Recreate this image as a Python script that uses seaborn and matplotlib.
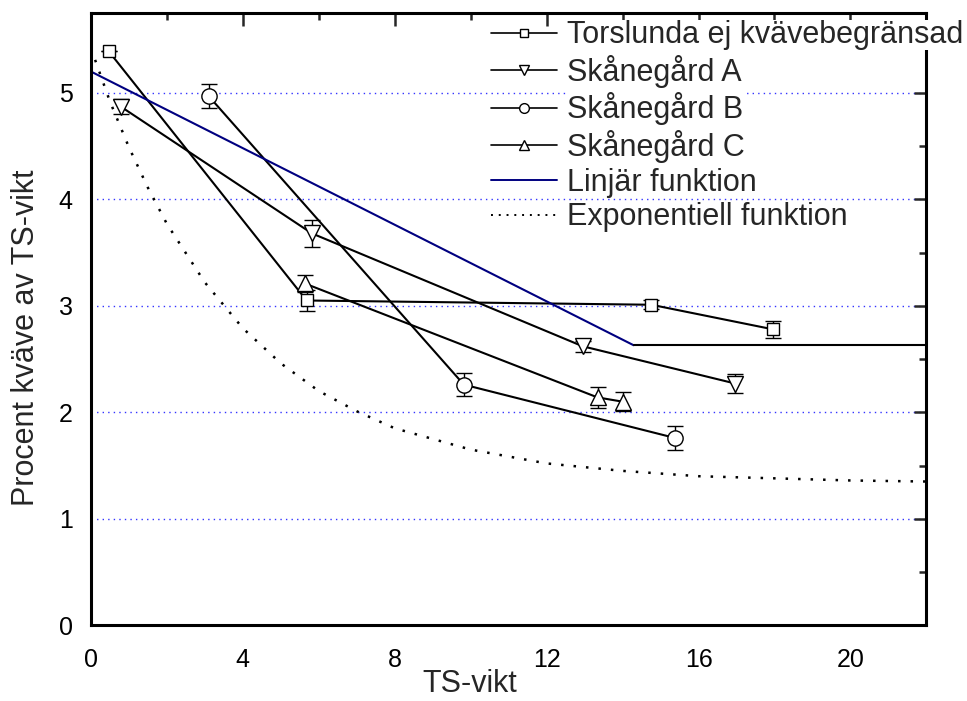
import numpy as np
import pandas as pd
import matplotlib
matplotlib.use("Agg")
import matplotlib.pyplot as plt
from matplotlib.lines import Line2D
from matplotlib.ticker import MultipleLocator
import seaborn as sns

# values
tors_x = [0.47, 5.68, 14.76, 17.95]
tors_y = [5.39, 3.05, 3.01, 2.78]
tors_err = [0.0, 0.10, 0.04, 0.08]

a_x = [0.79, 5.82, 12.95, 16.97]
a_y = [4.87, 3.68, 2.62, 2.27]
a_err = [0.07, 0.13, 0.05, 0.09]

b_x = [3.10, 9.82, 15.37]
b_y = [4.97, 2.26, 1.76]
b_err = [0.11, 0.11, 0.11]

c_x = [5.63, 13.34, 14.00]
c_y = [3.21, 2.14, 2.10]
c_err = [0.08, 0.10, 0.09]

lin_x = [0.0, 14.29]
lin_y = [5.20, 2.63]
flat_x = [14.29, 22.0]
flat_y = [2.63, 2.63]

exp_x = [0, 0.5, 1, 1.5, 2, 3, 4, 5, 6, 7, 8, 10, 12, 14, 16, 18, 20, 22]
exp_y = [5.42, 4.92, 4.49, 4.11, 3.77, 3.22, 2.79, 2.46, 2.20, 2.01, 1.85,
         1.65, 1.52, 1.45, 1.40, 1.38, 1.36, 1.35]

labels = ["Torslunda ej kvävebegränsad", "Skånegård A", "Skånegård B",
          "Skånegård C", "Linjär funktion", "Exponentiell funktion"]

sns.set_style("white")
plt.rcParams['font.family'] = ['Liberation Sans', 'DejaVu Sans']

fig = plt.figure(figsize=(9.67, 7.01), dpi=100)
ax = fig.add_axes([0.094, 0.108, 0.864, 0.8735])

for y in [1, 2, 3, 4, 5]:
    ax.axhline(y, color='#3333ff', linestyle=(0, (1, 3)), linewidth=1, zorder=0)

series = [(tors_x, tors_y, tors_err, 's', 9),
          (a_x, a_y, a_err, 'v', 12),
          (b_x, b_y, b_err, 'o', 11),
          (c_x, c_y, c_err, '^', 12)]
for xs, ys, es, m, ms in series:
    df = pd.DataFrame({'x': xs, 'y': ys})
    sns.lineplot(data=df, x='x', y='y', sort=False, color='black', linewidth=1.5,
                 ax=ax, zorder=2)
    ax.errorbar(xs, ys, yerr=es, fmt='none', ecolor='black', elinewidth=1,
                capsize=6, capthick=1, zorder=3)
    ax.plot(xs, ys, linestyle='none', marker=m, markersize=ms,
            markerfacecolor='white', markeredgecolor='black',
            markeredgewidth=1, zorder=4)

sns.lineplot(x=lin_x, y=lin_y, color='#000080', linewidth=1.5, ax=ax, zorder=2)
sns.lineplot(x=flat_x, y=flat_y, color='black', linewidth=1.5, ax=ax, zorder=2)
sns.lineplot(x=exp_x, y=exp_y, color='black', linewidth=1.8,
             linestyle=(0, (1, 4)), ax=ax, zorder=2)

ax.set_xlim(0, 22)
ax.set_ylim(0, 5.75)
ax.xaxis.set_major_locator(MultipleLocator(4))
ax.xaxis.set_minor_locator(MultipleLocator(2))
ax.yaxis.set_major_locator(MultipleLocator(1))
ax.yaxis.set_minor_locator(MultipleLocator(0.5))
ax.tick_params(which='major', direction='out', length=9, width=1.8,
               labelsize=18, colors='black')
ax.tick_params(axis='x', which='major', pad=7)
ax.tick_params(axis='y', which='major', pad=4)
ax.tick_params(which='minor', direction='out', length=5, width=1.8)

sec_x = ax.secondary_xaxis('top')
sec_x.xaxis.set_major_locator(MultipleLocator(4))
sec_x.xaxis.set_minor_locator(MultipleLocator(2))
sec_x.tick_params(which='major', direction='in', length=9, width=1.8, labeltop=False)
sec_x.tick_params(which='minor', direction='in', length=5, width=1.8)
sec_y = ax.secondary_yaxis('right')
sec_y.yaxis.set_major_locator(MultipleLocator(1))
sec_y.yaxis.set_minor_locator(MultipleLocator(0.5))
sec_y.tick_params(which='major', direction='in', length=9, width=1.8, labelright=False)
sec_y.tick_params(which='minor', direction='in', length=5, width=1.8)
for s in list(sec_x.spines.values()) + list(sec_y.spines.values()):
    s.set_visible(False)

for s in ax.spines.values():
    s.set_color('black')
    s.set_linewidth(2.2)

ax.set_xlabel("TS-vikt", fontsize=22)
ax.set_ylabel("Procent kväve av TS-vikt", fontsize=22)
ax.xaxis.set_label_coords(0.454, -0.071)
ax.yaxis.set_label_coords(-0.060, 0.47)

handles = [
    Line2D([], [], color='black', lw=1.2, marker='s', ms=6, mfc='white', mec='black'),
    Line2D([], [], color='black', lw=1.2, marker='v', ms=7, mfc='white', mec='black'),
    Line2D([], [], color='black', lw=1.2, marker='o', ms=7, mfc='white', mec='black'),
    Line2D([], [], color='black', lw=1.2, marker='^', ms=7, mfc='white', mec='black'),
    Line2D([], [], color='#000080', lw=1.4),
    Line2D([], [], color='black', lw=1.4, linestyle=(0, (1, 3))),
]
leg = fig.legend(handles, labels, loc='upper left', bbox_to_anchor=(0.508, 0.971),
                 frameon=False, fontsize=22, handlelength=2.15, handletextpad=0.33,
                 labelspacing=0.15, borderpad=0, borderaxespad=0)
for t in leg.get_texts():
    t.set_bbox(dict(facecolor='white', edgecolor='none', pad=0))

fig.savefig("out.png", dpi=100)
